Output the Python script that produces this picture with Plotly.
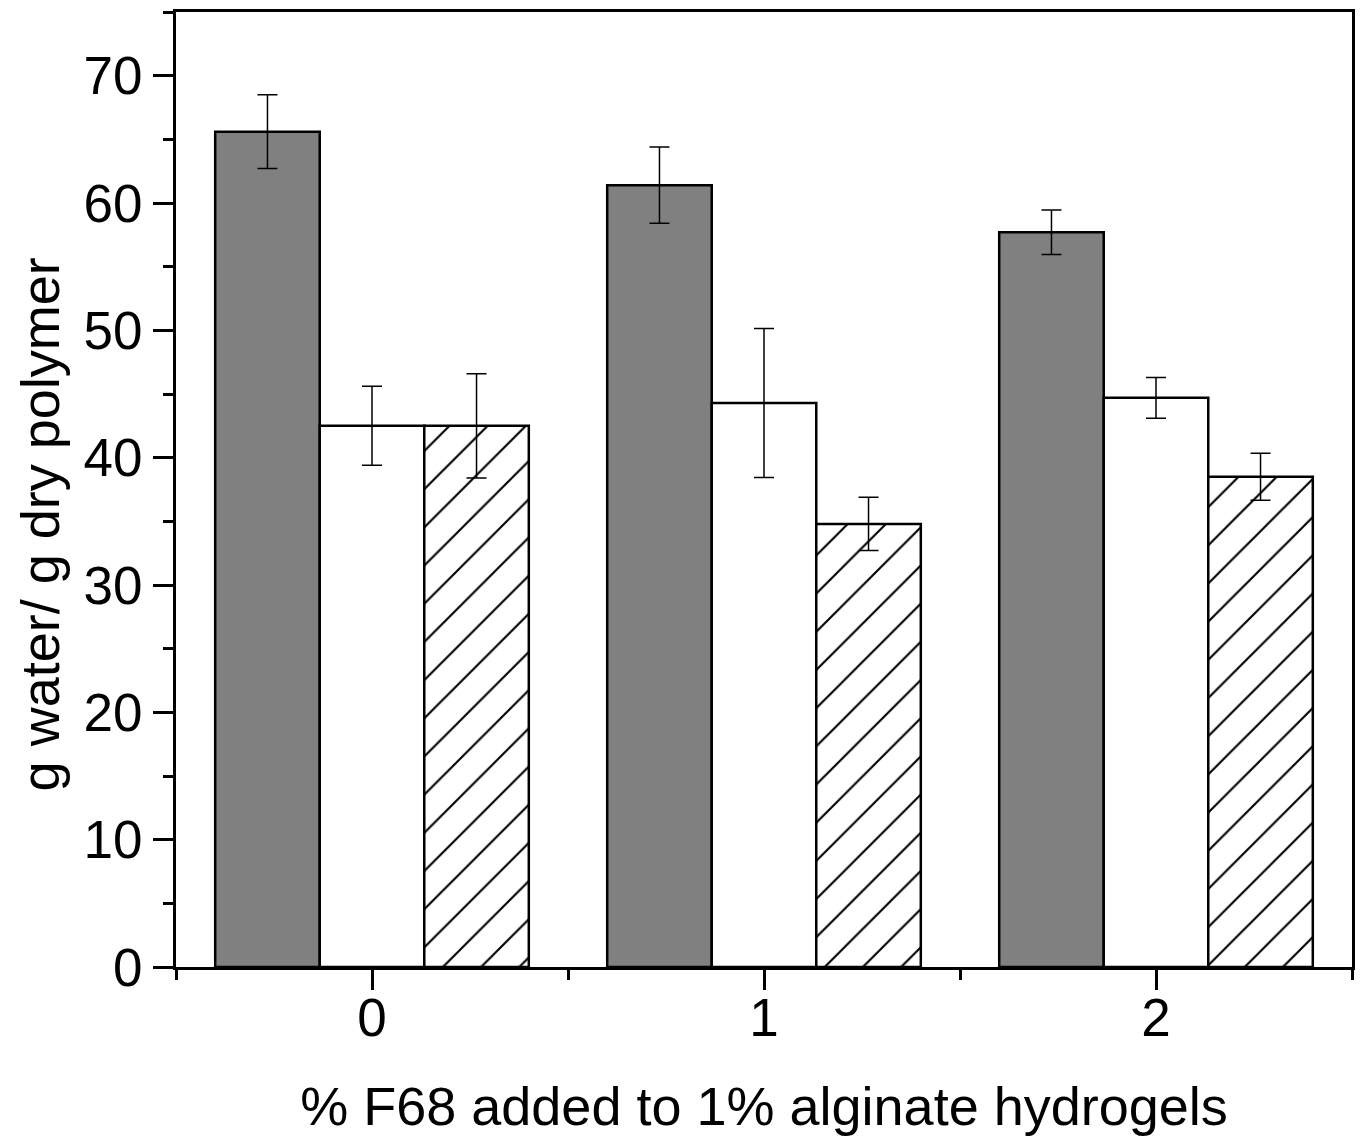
import plotly.graph_objects as go

categories = [0, 1, 2]
tick_labels = ["0", "1", "2"]
dark_vals = [65.6, 61.4, 57.7]
dark_err = [2.9, 3.0, 1.75]
white_vals = [42.5, 44.3, 44.7]
white_err = [3.1, 5.85, 1.6]
hatch_vals = [42.5, 34.8, 38.5]
hatch_err = [4.1, 2.1, 1.85]

FONT = "Liberation Sans, Arial, sans-serif"

def err(a):
    return dict(type="data", array=a, visible=True, color="black", thickness=1.5, width=10)

fig = go.Figure()
fig.add_trace(go.Bar(x=categories, y=dark_vals, error_y=err(dark_err),
                     marker=dict(color="#808080", line=dict(color="black", width=2.5))))
fig.add_trace(go.Bar(x=categories, y=white_vals, error_y=err(white_err),
                     marker=dict(color="white", line=dict(color="black", width=2.5))))
fig.add_trace(go.Bar(x=categories, y=hatch_vals, error_y=err(hatch_err),
                     marker=dict(color="white", line=dict(color="black", width=2.5),
                                 pattern=dict(shape="/", size=27, solidity=0.08,
                                              fgcolor="black", fgopacity=1,
                                              bgcolor="white", fillmode="replace"))))

fig.update_layout(
    width=1360, height=1138,
    barmode="group", bargap=0.2, bargroupgap=0,
    showlegend=False,
    plot_bgcolor="white", paper_bgcolor="white",
    margin=dict(l=176, r=5, t=12, b=171),
    font=dict(family=FONT, size=53, color="black"),
)
fig.update_xaxes(
    range=[-0.5, 2.5], tickvals=categories, ticktext=tick_labels,
    showline=True, linecolor="black", linewidth=3, mirror=True,
    ticks="outside", ticklen=20, tickwidth=3, tickcolor="black",
    minor=dict(tickvals=[-0.5, 0.5, 1.5, 2.5], ticks="outside", ticklen=10,
               tickwidth=3, tickcolor="black"),
    showgrid=False, zeroline=False,
    tickfont=dict(size=53), ticklabelstandoff=-18,
    title=dict(text="% F68 added to 1% alginate hydrogels", font=dict(size=54), standoff=42),
)
fig.update_yaxes(
    range=[0, 75], dtick=10, tick0=0,
    showline=True, linecolor="black", linewidth=3, mirror=True,
    ticks="outside", ticklen=20, tickwidth=3, tickcolor="black",
    minor=dict(dtick=5, ticks="outside", ticklen=10, tickwidth=3, tickcolor="black"),
    showgrid=False, zeroline=False,
    tickfont=dict(size=53),
)
fig.add_annotation(
    text="g water/ g dry polymer", textangle=-90,
    xref="paper", yref="paper", x=-0.1153, y=0.4639,
    xanchor="center", yanchor="middle", showarrow=False,
    font=dict(family=FONT, size=54, color="black"),
)

fig.write_html("out.html")
